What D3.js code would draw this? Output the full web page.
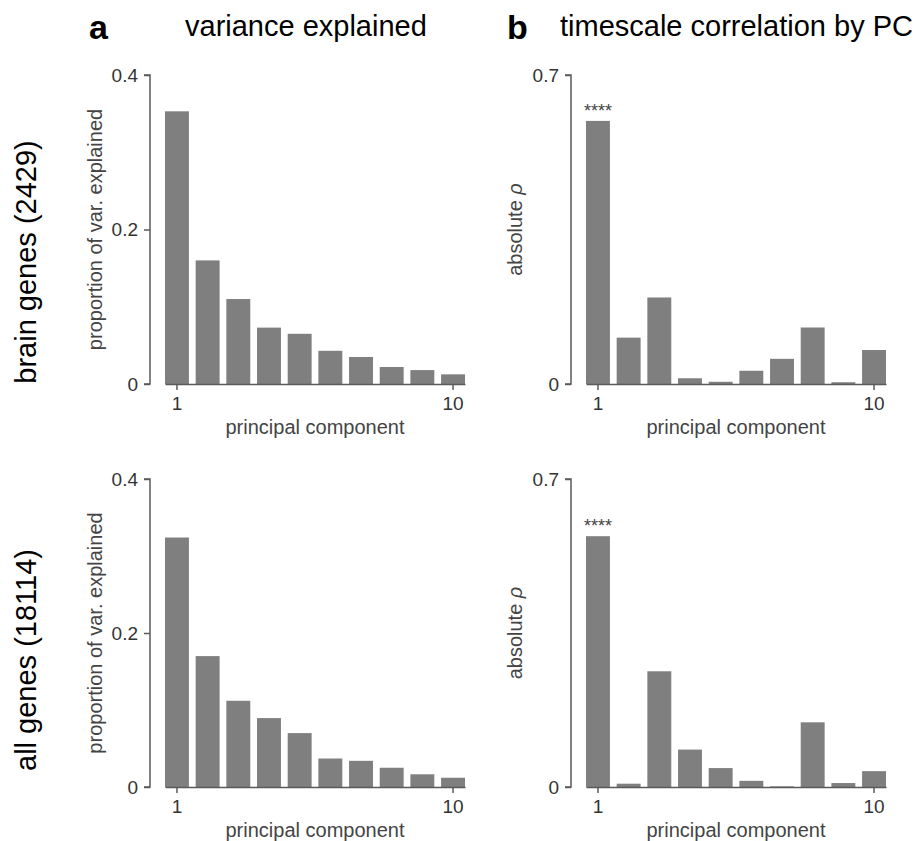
<!DOCTYPE html>
<html>
<head>
<meta charset="utf-8">
<script src="https://cdn.jsdelivr.net/npm/d3@7"></script>
<style>
  body { margin: 0; background: #fff; }
  text { font-family: "Liberation Sans", Arial, Helvetica, sans-serif; }
</style>
</head>
<body>
<div id="chart"></div>
<script>
// PCA summary: variance explained and timescale correlation per principal component

// Data
const components = [1, 2, 3, 4, 5, 6, 7, 8, 9, 10];
const brainVar = [0.353, 0.160, 0.110, 0.073, 0.065, 0.043, 0.035, 0.022, 0.018, 0.0125];
const brainRho = [0.596, 0.105, 0.196, 0.013, 0.005, 0.030, 0.057, 0.128, 0.004, 0.077];
const allVar = [0.324, 0.170, 0.112, 0.0895, 0.070, 0.037, 0.034, 0.025, 0.0165, 0.012];
const allRho = [0.570, 0.0075, 0.263, 0.085, 0.043, 0.014, 0.0015, 0.147, 0.009, 0.036];
const varTicks = [0, 0.2, 0.4];
const rhoTicks = [0, 0.7];
const xTickLabels = [1, 10];
const rowLabels = ["brain genes (2429)", "all genes (18114)"];

const W = 922, H = 841;
const barColor = "#7f7f7f", axisColor = "#5a5a5a";

const svg = d3.select("#chart").append("svg")
    .attr("width", W)
    .attr("height", H);

// Column headers
svg.append("text").attr("x", 89).attr("y", 39)
    .style("font-size", "34px").style("font-weight", "bold").text("a");
svg.append("text").attr("x", 185).attr("y", 36)
    .style("font-size", "29px").text("variance explained");
svg.append("text").attr("x", 507).attr("y", 39)
    .style("font-size", "34px").style("font-weight", "bold").text("b");
svg.append("text").attr("x", 560).attr("y", 36)
    .style("font-size", "29px").text("timescale correlation by PC");

// Row labels
[262, 660].forEach((cy, i) => {
    svg.append("text")
        .attr("transform", `translate(36, ${cy}) rotate(-90)`)
        .attr("text-anchor", "middle")
        .style("font-size", "29px")
        .text(rowLabels[i]);
});

// panel layout: axis x, top and bottom of the y range
const panels = [
    { values: brainVar, ticks: varTicks, max: 0.4, ax: 150, top: 75, bottom: 384, label: "var", stars: false },
    { values: brainRho, ticks: rhoTicks, max: 0.7, ax: 571, top: 75, bottom: 384, label: "rho", stars: true },
    { values: allVar, ticks: varTicks, max: 0.4, ax: 150, top: 479, bottom: 787, label: "var", stars: false },
    { values: allRho, ticks: rhoTicks, max: 0.7, ax: 571, top: 479, bottom: 787, label: "rho", stars: true }
];

panels.forEach(p => {
    const g = svg.append("g");

    const x = d3.scaleBand()
        .domain(components)
        .range([p.ax + 15, p.ax + 315])
        .paddingInner(0.22)
        .paddingOuter(0);

    const y = d3.scaleLinear()
        .domain([0, p.max])
        .range([p.bottom, p.top]);

    // bars
    g.selectAll("rect.bar")
        .data(p.values)
        .enter().append("rect")
        .attr("class", "bar")
        .attr("x", (d, i) => x(components[i]))
        .attr("width", x.bandwidth())
        .attr("y", d => y(d))
        .attr("height", d => y(0) - y(d))
        .attr("fill", barColor);

    // y axis
    const yAxis = g.append("g")
        .attr("transform", `translate(${p.ax},0)`)
        .call(d3.axisLeft(y).tickValues(p.ticks).tickSize(6).tickPadding(6)
            .tickFormat(d => d === 0 ? "0" : d3.format(".1f")(d)));
    yAxis.select(".domain").attr("stroke", axisColor).attr("stroke-width", 1.5)
        .attr("d", `M-6,${p.bottom}H0V${p.top}H-6`);
    yAxis.selectAll(".tick line").attr("stroke", axisColor).attr("stroke-width", 1.5);
    yAxis.selectAll(".tick text").attr("fill", "#333")
        .style("font-size", "19px").style("font-family", "'Liberation Sans', Arial, sans-serif");

    // x axis: line along the bars, ticks at 1 and 10
    const xAxis = g.append("g")
        .attr("transform", `translate(0,${p.bottom})`)
        .call(d3.axisBottom(x).tickValues(xTickLabels).tickSize(6).tickPadding(7).tickSizeOuter(0));
    xAxis.select(".domain").attr("stroke", axisColor).attr("stroke-width", 1.5);
    xAxis.selectAll(".tick line").attr("stroke", axisColor).attr("stroke-width", 1.5);
    xAxis.selectAll(".tick text").attr("fill", "#333")
        .style("font-size", "19px").style("font-family", "'Liberation Sans', Arial, sans-serif");

    // x axis title
    g.append("text")
        .attr("x", p.ax + 165)
        .attr("y", p.bottom + 50)
        .attr("text-anchor", "middle")
        .attr("fill", "#444")
        .style("font-size", "20px")
        .text("principal component");

    // y axis title
    const yt = g.append("text")
        .attr("transform", `translate(${p.ax - (p.label === "var" ? 48 : 49)}, ${(p.top + p.bottom) / 2}) rotate(-90)`)
        .attr("text-anchor", "middle")
        .attr("fill", "#444")
        .style("font-size", "20px");
    if (p.label === "var") {
        yt.text("proportion of var. explained");
    } else {
        yt.append("tspan").text("absolute ");
        yt.append("tspan").style("font-style", "italic").text("ρ");
    }

    // significance stars above PC1
    if (p.stars) {
        g.append("text")
            .attr("x", x(components[0]) + x.bandwidth() / 2)
            .attr("y", y(p.values[0]) - 4)
            .attr("text-anchor", "middle")
            .attr("fill", "#444")
            .style("font-size", "18px")
            .text("****");
    }
});
</script>
</body>
</html>
